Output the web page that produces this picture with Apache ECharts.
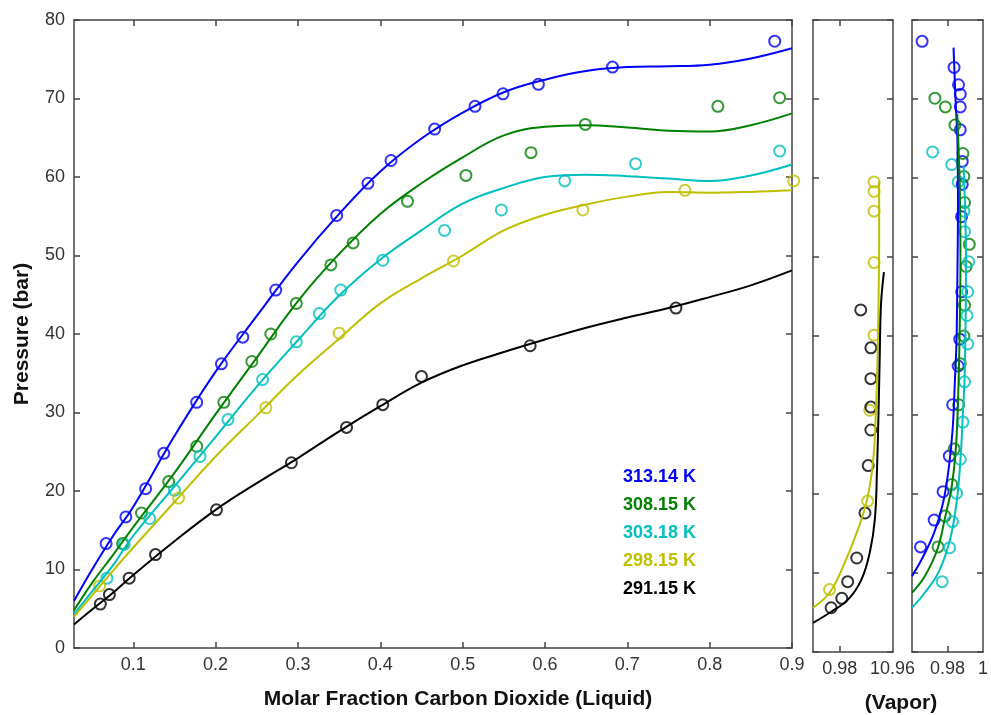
<!DOCTYPE html>
<html>
<head>
<meta charset="utf-8">
<script src="https://cdn.jsdelivr.net/npm/echarts@6/dist/echarts.min.js"></script>
<style>
html, body { margin: 0; padding: 0; background: #fff; }
#chart { width: 991px; height: 715px; }
</style>
</head>
<body>
<div id="chart"></div>
<script>
var temps = ['313.14 K', '308.15 K', '303.18 K', '298.15 K', '291.15 K'];
var colors = ['#0000ff', '#008000', '#00bfbf', '#bfbf00', '#000000'];

// measured points: liquid fraction, vapor fraction, pressure (bar)
var liq313 = [0.067,0.091,0.115,0.137,0.177,0.207,0.233,0.273,0.347,0.385,0.413,0.466,0.515,0.549,0.592,0.682,0.879];
var vap313 = [0.9648,0.9725,0.9775,0.9810,0.9829,0.9860,0.9869,0.9880,0.9879,0.9883,0.9883,0.9872,0.9872,0.9872,0.9862,0.9837,0.9657];
var p313 = [13.3,16.7,20.3,24.8,31.3,36.2,39.6,45.6,55.1,59.2,62.1,66.1,69.0,70.6,71.8,74.0,77.3];

var liq308 = [0.087,0.110,0.143,0.177,0.210,0.244,0.267,0.298,0.340,0.367,0.433,0.504,0.583,0.649,0.810,0.885];
var vap308 = [0.9747,0.9786,0.9824,0.9838,0.9863,0.9872,0.9892,0.9896,0.9905,0.9923,0.9896,0.9892,0.9887,0.9842,0.9788,0.9729];
var p308 = [13.3,17.2,21.2,25.7,31.3,36.5,40.0,43.9,48.8,51.6,56.9,60.2,63.1,66.7,69.0,70.1];

var liq303 = [0.068,0.089,0.120,0.150,0.181,0.215,0.257,0.298,0.326,0.352,0.403,0.478,0.547,0.624,0.710,0.885];
var vap303 = [0.9770,0.9812,0.9828,0.9851,0.9872,0.9887,0.9896,0.9914,0.9910,0.9914,0.9919,0.9896,0.9892,0.9860,0.9824,0.9716];
var p303 = [8.9,13.2,16.5,20.1,24.4,29.1,34.2,39.0,42.6,45.6,49.4,53.2,55.8,59.5,61.7,63.3];

var liq298 = [0.059,0.155,0.261,0.350,0.489,0.646,0.770,0.902];
var vap298 = [0.9762,0.9905,0.9913,0.9929,0.9929,0.9929,0.9929,0.9929];
var p298 = [7.9,19.1,30.6,40.1,49.3,55.8,58.3,59.5];

var liq291 = [0.060,0.071,0.095,0.127,0.201,0.292,0.359,0.403,0.450,0.582,0.759];
var vap291 = [0.9768,0.9808,0.9830,0.9864,0.9895,0.9907,0.9917,0.9917,0.9917,0.9917,0.9879];
var p291 = [5.6,6.8,8.9,11.9,17.6,23.6,28.1,31.0,34.6,38.5,43.3];

// model curves, liquid side
var curveX = [0.028,0.05,0.075,0.1,0.15,0.2,0.25,0.3,0.35,0.4,0.45,0.5,0.55,0.6,0.65,0.7,0.75,0.8,0.85,0.9];
var curve313 = [6.0,10.0,14.2,18.0,27.0,35.2,42.3,49.2,55.3,60.7,64.9,68.2,70.8,72.4,73.5,74.0,74.1,74.3,75.1,76.4];
var curve308 = [4.8,8.3,11.8,15.4,22.3,29.8,37.0,44.2,50.2,55.3,59.2,62.5,65.3,66.4,66.6,66.3,65.9,65.8,66.6,68.1];
var curve303 = [4.3,7.2,10.5,14.3,20.6,26.9,33.3,39.2,44.9,49.5,53.2,56.6,58.6,60.0,60.3,60.1,59.8,59.5,60.2,61.6];
var curve298 = [4.0,6.7,9.8,12.8,18.6,24.4,29.6,34.8,39.4,43.9,47.1,50.0,53.2,55.2,56.5,57.5,58.1,58.0,58.1,58.3];
var curve291 = [3.0,4.9,7.0,9.3,13.6,17.6,21.0,24.2,27.6,30.8,33.8,36.0,37.7,39.3,40.8,42.1,43.3,44.7,46.2,48.1];

// model curves, vapor side
var vcurve313X = [0.96,0.9654,0.9725,0.9775,0.9806,0.9829,0.9842,0.9851,0.9856,0.9859,0.9856,0.9847,0.9834];
var vcurve313P = [9.6,11.7,15.1,18.9,23.1,28.2,34.5,39.6,48.0,56.4,64.9,69.1,76.5];
var vcurve308X = [0.96,0.9672,0.9743,0.9788,0.9824,0.9848,0.9860,0.9868,0.9873,0.9870,0.9862,0.9855];
var vcurve308P = [7.5,9.6,13.0,17.2,21.0,26.1,32.4,40.0,50.0,58.0,64.0,68.1];
var vcurve303X = [0.96,0.9672,0.9752,0.9815,0.9851,0.9872,0.9887,0.9896,0.9902,0.9904,0.9898,0.9890];
var vcurve303P = [5.6,7.5,10.2,14.3,18.9,24.0,30.3,34.5,42.0,50.0,57.0,61.6];
var vcurve298X = [0.970,0.9762,0.9814,0.9864,0.9903,0.9926,0.9936,0.9942,0.9946,0.9948,0.9948];
var vcurve298P = [5.6,7.5,10.9,15.1,19.3,24.4,30.7,37.0,45.0,52.0,59.6];
var vcurve291X = [0.970,0.9764,0.9833,0.9882,0.9913,0.9932,0.9940,0.9946,0.9950,0.9955,0.9966];
var vcurve291P = [3.7,5.0,6.7,9.2,12.6,16.8,23.1,30.7,37.0,44.0,48.1];

var mainTicks = [0.1,0.2,0.3,0.4,0.5,0.6,0.7,0.8,0.9];
var vap1Labels = [0.98, 1];
var vap2Labels = [0.96, 0.98, 1];
var vapTicks = [0.98];

function pairs(xs, ys) {
    return xs.map(function (x, i) { return [x, ys[i]]; });
}

var sets = [
    { liq: liq313, vap: vap313, p: p313, curve: curve313, vcx: vcurve313X, vcp: vcurve313P, panel: 2 },
    { liq: liq308, vap: vap308, p: p308, curve: curve308, vcx: vcurve308X, vcp: vcurve308P, panel: 2 },
    { liq: liq303, vap: vap303, p: p303, curve: curve303, vcx: vcurve303X, vcp: vcurve303P, panel: 2 },
    { liq: liq298, vap: vap298, p: p298, curve: curve298, vcx: vcurve298X, vcp: vcurve298P, panel: 1 },
    { liq: liq291, vap: vap291, p: p291, curve: curve291, vcx: vcurve291X, vcp: vcurve291P, panel: 1 }
];

var axisColor = '#444';
var labelFont = { fontFamily: 'Liberation Sans', fontSize: 18, color: '#333' };
var titleFont = { fontFamily: 'Liberation Sans', fontSize: 21, fontWeight: 'bold', color: '#111' };

function fmt(v) { return String(+v.toFixed(3)); }

function xAxisFor(grid, pos, min, max, ticks, labels, extra) {
    var ax = {
        type: 'value', gridIndex: grid, position: pos, min: min, max: max,
        splitLine: { show: false },
        axisLine: { show: true, onZero: false, lineStyle: { color: axisColor, width: 1.5 } },
        axisTick: { show: true, inside: true, length: 6, customValues: ticks, lineStyle: { color: axisColor, width: 1.5 } },
        axisLabel: labels ? Object.assign({ show: true, margin: 8, customValues: labels, formatter: fmt }, labelFont) : { show: false }
    };
    return Object.assign(ax, extra || {});
}

function yAxisFor(grid, pos, showLabels, extra) {
    var ax = {
        type: 'value', gridIndex: grid, position: pos, min: 0, max: 80, interval: 10,
        splitLine: { show: false },
        axisLine: { show: true, onZero: false, lineStyle: { color: axisColor, width: 1.5 } },
        axisTick: { show: true, inside: true, length: 6, lineStyle: { color: axisColor, width: 1.5 } },
        axisLabel: showLabels ? Object.assign({ show: true, margin: 9 }, labelFont) : { show: false }
    };
    return Object.assign(ax, extra || {});
}

var xAxes = [
    xAxisFor(0, 'bottom', 0.028, 0.9, mainTicks, mainTicks, {
        name: 'Molar Fraction Carbon Dioxide (Liquid)', nameLocation: 'middle', nameGap: 41,
        nameTextStyle: Object.assign({ padding: [0, 0, 0, 50] }, titleFont)
    }),
    xAxisFor(0, 'top', 0.028, 0.9, mainTicks, null),
    xAxisFor(1, 'bottom', 0.97, 1, vapTicks, vap1Labels),
    xAxisFor(1, 'top', 0.97, 1, vapTicks, null),
    xAxisFor(2, 'bottom', 0.96, 1, vapTicks, vap2Labels),
    xAxisFor(2, 'top', 0.96, 1, vapTicks, null)
];
// the "1" and "0.96" labels of the two vapor panels run together in the original
xAxes[2].axisLabel.formatter = function (v) { return v === 1 ? '{s|1}' : fmt(v); };
xAxes[2].axisLabel.rich = { s: Object.assign({ padding: [0, 36, 0, 0] }, labelFont) };
xAxes[4].axisLabel.formatter = function (v) { return v === 0.96 ? '{t|0.96}' : fmt(v); };
xAxes[4].axisLabel.rich = { t: Object.assign({ padding: [0, 29, 0, 0] }, labelFont) };

var yAxes = [
    yAxisFor(0, 'left', true, {
        name: 'Pressure (bar)', nameLocation: 'middle', nameGap: 41, nameTextStyle: titleFont
    }),
    yAxisFor(0, 'right', false),
    yAxisFor(1, 'left', false),
    yAxisFor(1, 'right', false),
    yAxisFor(2, 'left', false),
    yAxisFor(2, 'right', false)
];

var series = [];
sets.forEach(function (s, i) {
    var c = colors[i];
    var ax = s.panel * 2;
    series.push({
        name: temps[i], type: 'line', xAxisIndex: 0, yAxisIndex: 0, smooth: 0.4,
        symbol: 'none', lineStyle: { color: c, width: 2 }, itemStyle: { color: c },
        data: pairs(curveX, s.curve)
    });
    series.push({
        name: temps[i], type: 'line', xAxisIndex: ax, yAxisIndex: ax, smooth: 0.4,
        symbol: 'none', lineStyle: { color: c, width: 2 }, itemStyle: { color: c },
        data: pairs(s.vcx, s.vcp)
    });
});
sets.forEach(function (s, i) {
    var c = colors[i];
    var ax = s.panel * 2;
    var mark = { color: 'rgba(0,0,0,0)', borderColor: c, borderWidth: 2 };
    series.push({
        name: temps[i], type: 'scatter', xAxisIndex: 0, yAxisIndex: 0, clip: false,
        symbol: 'circle', symbolSize: 11, itemStyle: mark, data: pairs(s.liq, s.p)
    });
    series.push({
        name: temps[i], type: 'scatter', xAxisIndex: ax, yAxisIndex: ax, clip: false,
        symbol: 'circle', symbolSize: 11, itemStyle: mark, data: pairs(s.vap, s.p)
    });
});

var chart = echarts.init(document.getElementById('chart'));
chart.setOption({
    animation: false,
    backgroundColor: '#fff',
    grid: [
        { left: 74, top: 20, width: 718, height: 632 },
        { left: 813, top: 20, width: 80, height: 632 },
        { left: 912, top: 20, width: 74, height: 632 }
    ],
    xAxis: xAxes,
    yAxis: yAxes,
    legend: {
        orient: 'vertical', left: 613, top: 463, itemGap: 10,
        icon: 'none', itemWidth: 0, itemHeight: 18, selectedMode: false,
        data: temps.map(function (t, i) {
            return { name: t, textStyle: { color: colors[i] } };
        }),
        textStyle: { fontFamily: 'Liberation Sans', fontSize: 18, fontWeight: 'bold' }
    },
    graphic: [{
        type: 'text', x: 901, y: 693,
        style: {
            text: '(Vapor)', align: 'center', verticalAlign: 'top',
            font: 'bold 21px "Liberation Sans"', fill: '#111'
        }
    }],
    series: series
});
</script>
</body>
</html>
